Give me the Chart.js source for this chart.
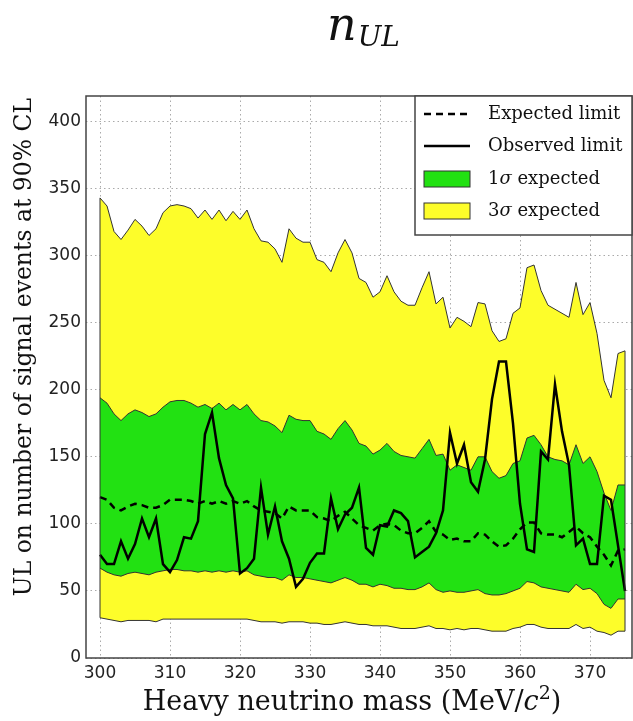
<!DOCTYPE html>
<html>
<head>
<meta charset="utf-8">
<script src="https://cdn.jsdelivr.net/npm/chart.js@4.4.1/dist/chart.umd.min.js"></script>
<style>
  html, body { margin: 0; padding: 0; background: #fff; }
  #wrap { width: 633px; height: 721px; }
</style>
</head>
<body>
<div id="wrap"><canvas id="ulChart" width="633" height="721"></canvas></div>
<script>
// heavy neutrino mass points (MeV/c^2)
const masses = [300, 301, 302, 303, 304, 305, 306, 307, 308, 309, 310, 311, 312, 313, 314, 315, 316, 317, 318, 319,
  320, 321, 322, 323, 324, 325, 326, 327, 328, 329, 330, 331, 332, 333, 334, 335, 336, 337, 338, 339,
  340, 341, 342, 343, 344, 345, 346, 347, 348, 349, 350, 351, 352, 353, 354, 355, 356, 357, 358, 359,
  360, 361, 362, 363, 364, 365, 366, 367, 368, 369, 370, 371, 372, 373, 374, 375];

// 3 sigma band, upper edge
const band3Up = [343, 337, 318, 312, 319, 327, 322, 315, 320, 332, 337, 338, 337, 335, 328, 334, 327, 334, 326, 333,
  327, 334, 320, 311, 310, 305, 295, 320, 313, 310, 310, 297, 295, 288, 302, 312, 302, 283, 280, 269,
  273, 285, 273, 266, 263, 263, 276, 288, 264, 269, 246, 254, 251, 247, 265, 264, 244, 236, 238, 257,
  261, 291, 293, 274, 263, 260, 257, 254, 280, 256, 265, 242, 207, 194, 227, 229];

// 1 sigma band, upper edge
const band1Up = [194, 190, 182, 177, 182, 185, 183, 180, 182, 187, 191, 192, 192, 190, 187, 189, 186, 190, 185, 189,
  185, 189, 182, 177, 176, 173, 168, 181, 178, 177, 177, 169, 167, 163, 171, 177, 170, 160, 158, 152,
  155, 160, 154, 151, 150, 149, 156, 163, 151, 152, 140, 144, 142, 140, 150, 150, 139, 134, 136, 145,
  147, 164, 166, 159, 150, 148, 147, 144, 159, 145, 150, 139, 123, 110, 129, 129];

// expected limit
const expected = [120, 118, 112, 110, 113, 115, 114, 112, 112, 114, 118, 118, 118, 117, 115, 117, 115, 117, 115, 117,
  115, 117, 113, 110, 109, 108, 104, 113, 110, 110, 110, 105, 104, 102, 106, 109, 104, 99, 97, 95,
  99, 100, 99, 95, 93, 93, 97, 102, 94, 92, 88, 89, 87, 87, 93, 92, 87, 83, 84, 89,
  96, 101, 101, 93, 92, 92, 90, 94, 98, 93, 90, 83, 77, 69, 80, 81];

// observed limit
const observed = [77, 70, 70, 87, 74, 85, 104, 90, 104, 70, 64, 73, 90, 89, 102, 167, 183, 149, 129, 119,
  63, 67, 74, 127, 92, 113, 87, 74, 53, 59, 71, 78, 78, 119, 96, 107, 112, 127, 82, 77,
  99, 98, 110, 108, 102, 75, 79, 83, 93, 110, 168, 145, 159, 131, 124, 148, 193, 221, 221, 175,
  115, 81, 79, 154, 148, 204, 169, 144, 84, 89, 70, 70, 121, 118, 84, 50];

// 1 sigma band, lower edge
const band1Lo = [67, 64, 62, 61, 63, 64, 63, 62, 64, 65, 66, 66, 65, 65, 64, 65, 64, 65, 64, 65,
  64, 65, 62, 61, 60, 60, 58, 62, 60, 60, 59, 58, 57, 56, 58, 60, 58, 55, 55, 53,
  55, 54, 52, 52, 51, 51, 53, 56, 51, 49, 50, 49, 49, 50, 51, 48, 47, 47, 48, 50,
  52, 57, 56, 53, 52, 51, 50, 49, 55, 51, 52, 48, 40, 37, 44, 44];

// 3 sigma band, lower edge
const band3Lo = [30, 29, 28, 27, 28, 28, 28, 28, 27, 29, 29, 29, 29, 29, 29, 29, 29, 29, 29, 29,
  29, 29, 28, 27, 27, 27, 26, 27, 27, 27, 26, 26, 25, 25, 26, 27, 26, 25, 25, 24,
  24, 24, 23, 22, 22, 22, 23, 24, 22, 22, 21, 22, 21, 22, 22, 21, 20, 20, 20, 22,
  23, 25, 25, 23, 22, 22, 22, 22, 25, 22, 23, 20, 19, 17, 20, 20];

const xTicks = [300, 310, 320, 330, 340, 350, 360, 370];
const yTicks = [0, 50, 100, 150, 200, 250, 300, 350, 400];

const GREEN = '#22e112';
const YELLOW = '#fdfd2a';
const EDGE = '#333333';
const SERIF = '"DejaVu Serif", serif';

const pts = arr => masses.map((m, i) => ({ x: m, y: arr[i] }));

const datasets = [
  { label: 'Observed limit', data: pts(observed), borderColor: '#000', borderWidth: 2.5, fill: false, order: 0 },
  { label: 'Expected limit', data: pts(expected), borderColor: '#000', borderWidth: 2.5, borderDash: [7, 5], fill: false, order: 1 },
  { label: '1σ expected', data: pts(band1Up), borderColor: EDGE, borderWidth: 1, backgroundColor: GREEN, fill: '+1', order: 2 },
  { label: '1σ lower', data: pts(band1Lo), borderColor: EDGE, borderWidth: 1, fill: false, order: 3 },
  { label: '3σ expected', data: pts(band3Up), borderColor: EDGE, borderWidth: 1, backgroundColor: YELLOW, fill: '+1', order: 4 },
  { label: '3σ lower', data: pts(band3Lo), borderColor: EDGE, borderWidth: 1, fill: false, order: 5 }
];

// draw a run of [text, italic] parts starting at x
function drawParts(ctx, parts, x, y, size) {
  let px = x;
  parts.forEach(([t, it, sup]) => {
    ctx.font = (it ? 'italic ' : '') + (sup ? Math.round(size * 0.7) : size) + 'px ' + SERIF;
    ctx.fillText(t, px, sup ? y - size * 0.4 : y);
    px += ctx.measureText(t).width;
  });
}
function partsWidth(ctx, parts, size) {
  let w = 0;
  parts.forEach(([t, it, sup]) => {
    ctx.font = (it ? 'italic ' : '') + (sup ? Math.round(size * 0.7) : size) + 'px ' + SERIF;
    w += ctx.measureText(t).width;
  });
  return w;
}

// title n_UL, axis titles, frame, band end edges and the legend box
const decorPlugin = {
  id: 'decor',
  afterDatasetsDraw(chart) {
    const { ctx, scales: { x, y } } = chart;
    const last = masses.length - 1;
    ctx.save();
    ctx.strokeStyle = EDGE;
    ctx.lineWidth = 1;
    ctx.beginPath();
    ctx.moveTo(x.getPixelForValue(masses[0]), y.getPixelForValue(band3Lo[0]));
    ctx.lineTo(x.getPixelForValue(masses[0]), y.getPixelForValue(band3Up[0]));
    ctx.moveTo(x.getPixelForValue(masses[last]), y.getPixelForValue(band3Lo[last]));
    ctx.lineTo(x.getPixelForValue(masses[last]), y.getPixelForValue(band3Up[last]));
    ctx.stroke();
    ctx.restore();
  },
  afterDraw(chart) {
    const { ctx, chartArea: a } = chart;
    ctx.save();

    // frame
    ctx.strokeStyle = '#444';
    ctx.lineWidth = 1.5;
    ctx.strokeRect(a.left, a.top, a.right - a.left, a.bottom - a.top);

    // title
    ctx.fillStyle = '#111';
    ctx.textBaseline = 'alphabetic';
    ctx.textAlign = 'left';
    const big = 'italic 46px ' + SERIF, small = 'italic 28px ' + SERIF;
    ctx.font = big;
    const wn = ctx.measureText('n').width;
    ctx.font = small;
    const ws = ctx.measureText('UL').width;
    const tx = (a.left + a.right) / 2 - (wn + ws) / 2 + 4;
    ctx.font = big;
    ctx.fillText('n', tx, 40);
    ctx.font = small;
    ctx.fillText('UL', tx + wn + 1, 46);

    // x axis title with italic c and superscript 2
    const xParts = [['Heavy neutrino mass (MeV/', false], ['c', true], ['2', false, true], [')', false]];
    const xs = 27;
    const xw = partsWidth(ctx, xParts, xs);
    drawParts(ctx, xParts, 352 - xw / 2, 710, xs);

    // y axis title, rotated
    ctx.save();
    ctx.translate(31, 347);
    ctx.rotate(-Math.PI / 2);
    ctx.textAlign = 'center';
    ctx.font = '23.5px ' + SERIF;
    ctx.fillText('UL on number of signal events at 90% CL', 0, 0);
    ctx.restore();
    ctx.textAlign = 'left';

    // legend
    const bx = a.right - 217, by = a.top, bw = a.right - bx, bh = 139;
    ctx.fillStyle = '#fff';
    ctx.fillRect(bx, by, bw, bh);
    ctx.strokeStyle = '#444';
    ctx.lineWidth = 1.5;
    ctx.strokeRect(bx, by, bw, bh);

    const sx0 = bx + 9, sx1 = bx + 55, tx0 = bx + 73;
    const rows = [
      { kind: 'line', dash: [7, 5], text: [['Expected limit', false]] },
      { kind: 'line', dash: [], text: [['Observed limit', false]] },
      { kind: 'box', color: GREEN, text: [['1', false], ['σ', true], [' expected', false]] },
      { kind: 'box', color: YELLOW, text: [['3', false], ['σ', true], [' expected', false]] }
    ];
    const rowY = [18, 50, 83, 115];
    rows.forEach((r, i) => {
      const cy = by + rowY[i];
      if (r.kind === 'line') {
        ctx.strokeStyle = '#000';
        ctx.lineWidth = 2.5;
        ctx.setLineDash(r.dash);
        ctx.beginPath();
        ctx.moveTo(sx0, cy);
        ctx.lineTo(sx1, cy);
        ctx.stroke();
        ctx.setLineDash([]);
      } else {
        ctx.fillStyle = r.color;
        ctx.fillRect(sx0, cy - 8, sx1 - sx0, 16);
        ctx.strokeStyle = '#333';
        ctx.lineWidth = 1;
        ctx.strokeRect(sx0, cy - 8, sx1 - sx0, 16);
      }
      ctx.fillStyle = '#111';
      ctx.textBaseline = 'middle';
      drawParts(ctx, r.text, tx0, cy, 18);
    });
    ctx.restore();
  }
};

const ctx = document.getElementById('ulChart').getContext('2d');
new Chart(ctx, {
  type: 'line',
  data: { datasets },
  plugins: [decorPlugin],
  options: {
    responsive: false,
    animation: false,
    devicePixelRatio: 1,
    layout: { padding: { top: 96, right: 1, left: 0, bottom: 0 } },
    elements: { point: { radius: 0, hoverRadius: 0 }, line: { tension: 0 } },
    plugins: {
      legend: { display: false },
      tooltip: { enabled: false },
      filler: { drawTime: 'beforeDatasetsDraw' }
    },
    scales: {
      x: {
        type: 'linear',
        min: 298,
        max: 376,
        afterBuildTicks: s => { s.ticks = xTicks.map(v => ({ value: v })); },
        afterFit: s => { s.height = 63; },
        ticks: { autoSkip: false, maxRotation: 0, padding: 5,
                 color: '#222', font: { family: '"DejaVu Sans", sans-serif', size: 17 } },
        grid: { color: '#aaa', lineWidth: 1, drawTicks: false },
        border: { display: false, dash: [1.5, 3] },
        title: { display: false }
      },
      y: {
        min: 0,
        max: 419,
        afterBuildTicks: s => { s.ticks = yTicks.map(v => ({ value: v })); },
        afterFit: s => { s.width = 86; },
        ticks: { padding: 5, color: '#222',
                 font: { family: '"DejaVu Sans", sans-serif', size: 17 } },
        grid: { color: '#aaa', lineWidth: 1, drawTicks: false },
        border: { display: false, dash: [1.5, 3] },
        title: { display: false }
      }
    }
  }
});
</script>
</body>
</html>
